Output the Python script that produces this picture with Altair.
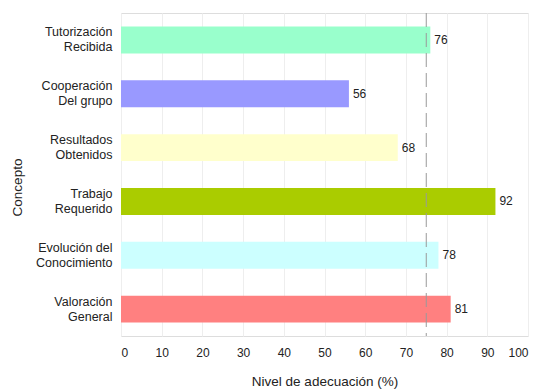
import altair as alt
import pandas as pd

conceptos = ["Tutorización|Recibida", "Cooperación|Del grupo", "Resultados|Obtenidos",
             "Trabajo|Requerido", "Evolución del|Conocimiento", "Valoración|General"]
valores = [76, 56, 68, 92, 78, 81]
colores = ["#99FFCC", "#9999FF", "#FFFFCC", "#AACC00", "#CCFFFF", "#FF8080"]
referencia = [75]
x_ticks = [0, 10, 20, 30, 40, 50, 60, 70, 80, 90, 100]

df = pd.DataFrame({"concepto": conceptos, "valor": valores, "color": colores})
ref = pd.DataFrame({"ref": referencia})

FONT = "Liberation Sans"

y_enc = alt.Y("concepto:N", sort=conceptos, title="Concepto",
              scale=alt.Scale(paddingInner=0.5, paddingOuter=0.25),
              axis=alt.Axis(labelExpr="split(datum.label, '|')", labelAlign="right",
                            labelLineHeight=15, labelFontSize=12.5, labelColor="#222222",
                            labelPadding=9, labelOffset=-7.5, ticks=False, domain=False,
                            titleFontSize=13.5, titleColor="#222222", titleFontWeight="normal",
                            titleX=-97, titleY=174, titleAngle=-90))

x_enc = alt.X("valor:Q", title="Nivel de adecuación (%)",
              scale=alt.Scale(domain=[0, 100], nice=False),
              axis=alt.Axis(values=x_ticks, ticks=False, domain=False, grid=True,
                            gridColor="#EEEEEE", labelFontSize=12, labelColor="#222222",
                            labelPadding=11, titleFontSize=13.5, titleColor="#222222",
                            titleFontWeight="normal", titlePadding=16))

bars = alt.Chart(df).mark_bar().encode(
    x=x_enc, y=y_enc,
    color=alt.Color("color:N", scale=None),
)

labels = alt.Chart(df).mark_text(align="left", baseline="middle", dx=4, fontSize=12,
                                 color="#222222", font=FONT).encode(
    x="valor:Q", y=alt.Y("concepto:N", sort=conceptos), text="valor:Q")

rule = alt.Chart(ref).mark_rule(color="#999999", strokeDash=[14, 6], strokeWidth=1).encode(
    x="ref:Q")

chart = alt.layer(bars, rule, labels).properties(
    width=407, height=323, autosize="none",
    padding={"left": 121, "top": 13, "right": 10, "bottom": 56},
).configure(font=FONT).configure_view(stroke="#DDDDDD", strokeWidth=1)

chart.save("out.html", embed_options={"renderer": "svg", "actions": False})
